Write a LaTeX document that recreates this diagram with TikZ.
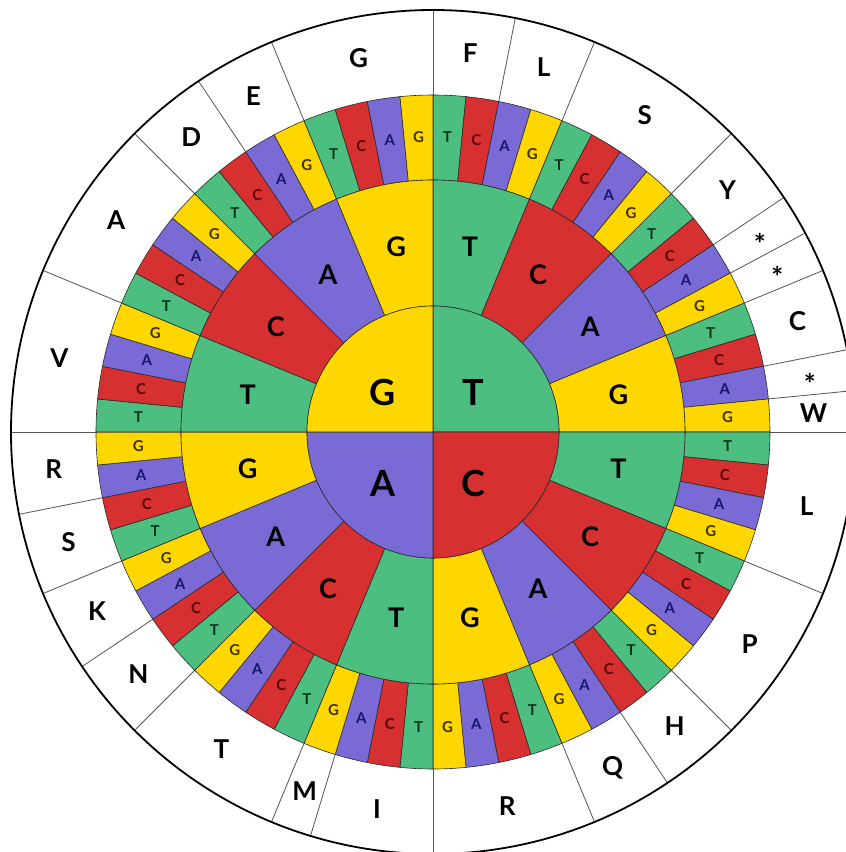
\documentclass[tikz,border=0pt]{standalone}
\usepackage{fontspec}
\setmainfont{Lato}
\definecolor{cT}{HTML}{4CBE80}
\definecolor{cC}{HTML}{D63031}
\definecolor{cA}{HTML}{7A6AD6}
\definecolor{cG}{HTML}{FFD700}
\definecolor{tT}{HTML}{0F331D}
\definecolor{tC}{HTML}{5A0606}
\definecolor{tA}{HTML}{16166A}
\definecolor{tG}{HTML}{403200}
\definecolor{edge}{HTML}{2A2A2A}
\definecolor{divcol}{HTML}{555555}
\tikzset{
  wedge/.style={draw=edge, line width=0.6pt},
  bigletter/.style={font=\fontsize{36}{40}\selectfont\bfseries, text=black, inner sep=0pt},
  midletter/.style={font=\fontsize{27}{30}\selectfont\bfseries, text=black, inner sep=0pt},
  smallletter/.style={font=\fontsize{15}{16}\selectfont\bfseries, inner sep=0pt},
  aalabel/.style={font=\fontsize{26}{30}\selectfont\bfseries, text=black, inner sep=0pt},
  stoplabel/.style={font=\fontsize{28}{30}\selectfont\bfseries, text=black, inner sep=0pt, yshift=-8pt},
  divider/.style={draw=divcol, line width=0.8pt}
}
\begin{document}
\begin{tikzpicture}[x=1pt,y=1pt]
\useasboundingbox (-433,-420) rectangle (413,432);
\fill[white] (-433,-420) rectangle (413,432);
% outer circle
\draw[black, line width=1.8pt] (0,0) circle (422);
% amino-acid dividers
\foreach \k in {0,2,4,8,10,11,12,14,15,16,20,24,26,28,32,35,36,40,42,44,46,48,52,56,58,60}{
  \draw[divider] ({90-\k*5.625}:337) -- ({90-\k*5.625}:421);
}
% third ring
\foreach \i/\bi in {0/T,1/C,2/A,3/G}{
 \foreach \j/\bj in {0/T,1/C,2/A,3/G}{
  \foreach \m/\bm in {0/T,1/C,2/A,3/G}{
   \pgfmathsetmacro\a{90-(16*\i+4*\j+\m)*5.625}
   \pgfmathsetmacro\b{\a-5.625}
   \pgfmathsetmacro\c{\a-2.8125}
   \filldraw[wedge, fill=c\bm] (\a:252) arc[start angle=\a, end angle=\b, radius=252] -- (\b:337) arc[start angle=\b, end angle=\a, radius=337] -- cycle;
   \node[smallletter, text=t\bm] (t\i\j\m) at (\c:295) {\bm};
  }
 }
}
% second ring
\foreach \i/\bi in {0/T,1/C,2/A,3/G}{
 \foreach \j/\bj in {0/T,1/C,2/A,3/G}{
   \pgfmathsetmacro\a{90-(4*\i+\j)*22.5}
   \pgfmathsetmacro\b{\a-22.5}
   \pgfmathsetmacro\c{\a-11.25}
   \filldraw[wedge, fill=c\bj] (\a:126) arc[start angle=\a, end angle=\b, radius=126] -- (\b:252) arc[start angle=\b, end angle=\a, radius=252] -- cycle;
   \node[midletter] (s\i\j) at (\c:189) {\bj};
 }
}
% centre
\foreach \i/\bi in {0/T,1/C,2/A,3/G}{
   \pgfmathsetmacro\a{90-\i*90}
   \pgfmathsetmacro\b{\a-90}
   \filldraw[wedge, fill=c\bi] (0,0) -- (\a:126) arc[start angle=\a, end angle=\b, radius=126] -- cycle;
}
\node[bigletter] (cG) at (-50,40) {G};
\node[bigletter] (cT) at (40,40) {T};
\node[bigletter] (cA) at (-50,-51) {A};
\node[bigletter] (cC) at (40,-51) {C};
% amino-acid labels
\foreach \k/\t [count=\n] in {1/F,3/L,6/S,9/Y,13/C,15.5/W,18/L,22/P,25/H,27/Q,30/R,33.5/I,35.5/M,38/T,41/N,43/K,45/S,47/R,50/V,54/A,57/D,59/E,62/G}{
  \node[aalabel] (aa\n) at ({90-\k*5.625}:381) {\t};
}
\foreach \k [count=\n] in {10.5,11.5,14.5}{
  \node[stoplabel] (stop\n) at ({90-\k*5.625}:381) {*};
}
\end{tikzpicture}
\end{document}
